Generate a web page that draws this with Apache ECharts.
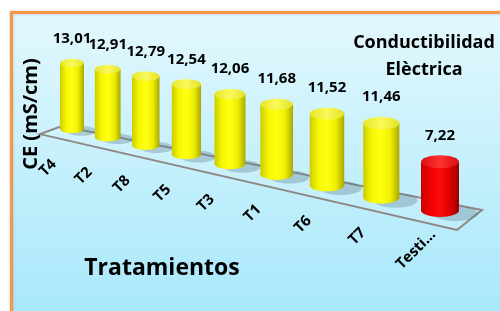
<!DOCTYPE html>
<html>
<head>
<meta charset="utf-8">
<script src="https://cdn.jsdelivr.net/npm/echarts@6/dist/echarts.min.js"></script>
<style>
  html, body { margin: 0; padding: 0; background: #fff; }
  #chart { width: 500px; height: 311px; }
</style>
</head>
<body>
<div id="chart"></div>
<script>
const categories = ['T4', 'T2', 'T8', 'T5', 'T3', 'T1', 'T6', 'T7', 'Testi…'];
const values = [13.01, 12.91, 12.79, 12.54, 12.06, 11.68, 11.52, 11.46, 7.22];
const barColors = ['yellow', 'yellow', 'yellow', 'yellow', 'yellow', 'yellow', 'yellow', 'yellow', 'red'];

const FONT = '"Open Sans", "DejaVu Sans", sans-serif';
// pseudo 3d: the row of bars recedes to the left
const DEPTH = 0.248;
const SLOPE = 0.2215;

const fills = {
  yellow: {
    body: ['#cccc00', '#f7f700', '#ffff14', '#efef00', '#a9a900'],
    cap: ['#e6e62a', '#fafa5a', '#e2e226'],
  },
  red: {
    body: ['#c80000', '#f20000', '#ff0a0a', '#e00000', '#9a0000'],
    cap: ['#dd1010', '#ff3030', '#d80e0e'],
  },
};

function gradient(stops) {
  return new echarts.graphic.LinearGradient(0, 0, 1, 0,
    stops.map((c, k) => ({ offset: k / (stops.length - 1), color: c })));
}

function project(cs, px, py) {
  const u = (px - cs.x) / cs.width;
  const s = 1 / (1 - DEPTH * u);
  const bottom = cs.y + cs.height;
  const x = cs.x + cs.width * (1 - DEPTH) * u * s;
  const yb = bottom + SLOPE * (x - cs.x);
  return { u: u, s: s, x: x, yb: yb, yt: yb - (bottom - py) * s };
}

function renderFloor(params, api) {
  const cs = params.coordSys;
  const bottom = cs.y + cs.height;
  const l = project(cs, cs.x - 0.081 * cs.width, bottom);
  const r = project(cs, cs.x + 1.059 * cs.width, bottom);
  return {
    type: 'polygon',
    shape: {
      points: [
        [l.x + 12, l.yb + 2],
        [r.x + 12.5, r.yb - 7],
        [r.x - 12.5, r.yb + 13],
        [l.x - 10, l.yb + 10],
      ],
    },
    style: { fill: 'rgba(255,255,255,0.10)', stroke: '#8e8784', lineWidth: 2 },
  };
}

function renderBar(params, api) {
  const cs = params.coordSys;
  const i = api.value(0);
  const p0 = api.coord([i, 0]);
  const p1 = api.coord([i, api.value(1)]);
  const p = project(cs, p0[0], p1[1]);
  const w = 24 + 14 * p.u;
  const rx = w / 2;
  const ry = 0.17 * w;
  const f = fills[barColors[i]];
  return {
    type: 'group',
    children: [
      {
        type: 'ellipse',
        shape: { cx: p.x + 0.4 * w, cy: p.yb + 0.08 * w, rx: 0.6 * w, ry: 0.2 * w },
        style: { fill: 'rgba(95,125,140,0.35)' },
      },
      {
        type: 'rect',
        shape: { x: p.x - rx, y: p.yt, width: w, height: p.yb - p.yt },
        style: { fill: gradient(f.body) },
      },
      {
        type: 'ellipse',
        shape: { cx: p.x, cy: p.yb, rx: rx, ry: ry },
        style: { fill: gradient(f.body) },
      },
      {
        type: 'ellipse',
        shape: { cx: p.x, cy: p.yt, rx: rx, ry: ry },
        style: { fill: gradient(f.cap) },
      },
      {
        type: 'text',
        x: p.x,
        y: p.yt - ry - 20,
        style: {
          text: values[i].toFixed(2).replace('.', ','),
          fill: '#000',
          font: 'bold 15px ' + FONT,
          align: 'center',
          verticalAlign: 'middle',
        },
      },
      {
        type: 'text',
        x: p.x - 24,
        y: p.yb + 39,
        rotation: Math.PI / 4,
        style: {
          text: categories[i],
          fill: '#000',
          font: 'bold 15px ' + FONT,
          align: 'center',
          verticalAlign: 'middle',
        },
      },
    ],
  };
}

const chart = echarts.init(document.getElementById('chart'));
chart.setOption({
  animation: false,
  grid: { left: 72, right: 60, top: 58, bottom: 182 },
  xAxis: { type: 'category', data: categories, boundaryGap: false, show: false },
  yAxis: { type: 'value', min: 0, max: 14, show: false },
  graphic: [
    {
      type: 'rect',
      z: -10,
      shape: { x: 11.5, y: 12.5, width: 520, height: 320 },
      style: {
        fill: new echarts.graphic.LinearGradient(0, 0, 0, 1, [
          { offset: 0, color: '#e3f8fd' },
          { offset: 1, color: '#a4e7fb' },
        ]),
        stroke: '#f79646',
        lineWidth: 3,
        shadowBlur: 3,
        shadowColor: 'rgba(0,0,0,0.2)',
      },
    },
    {
      type: 'text',
      x: 424,
      y: 43,
      style: {
        text: 'Conductibilidad',
        fill: '#000',
        font: 'bold 18px ' + FONT,
        align: 'center',
        verticalAlign: 'middle',
      },
    },
    {
      type: 'text',
      x: 424,
      y: 70,
      style: {
        text: 'Elèctrica',
        fill: '#000',
        font: 'bold 18px ' + FONT,
        align: 'center',
        verticalAlign: 'middle',
      },
    },
    {
      type: 'text',
      x: 31,
      y: 114,
      rotation: Math.PI / 2,
      style: {
        text: 'CE (mS/cm)',
        fill: '#000',
        font: 'bold 20px ' + FONT,
        align: 'center',
        verticalAlign: 'middle',
      },
    },
    {
      type: 'text',
      x: 162,
      y: 268,
      style: {
        text: 'Tratamientos',
        fill: '#000',
        font: 'bold 23px ' + FONT,
        align: 'center',
        verticalAlign: 'middle',
      },
    },
  ],
  series: [
    {
      type: 'custom',
      renderItem: renderFloor,
      data: [[0, 0]],
      silent: true,
    },
    {
      type: 'custom',
      renderItem: renderBar,
      encode: { x: 0, y: 1 },
      data: values.map((v, i) => [i, v]),
    },
  ],
});
</script>
</body>
</html>
